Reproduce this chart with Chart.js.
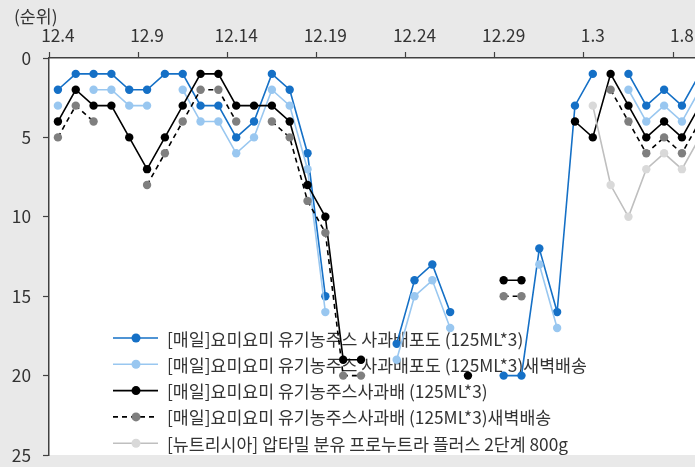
<!DOCTYPE html>
<html>
<head>
<meta charset="utf-8">
<script src="https://cdn.jsdelivr.net/npm/chart.js@4"></script>
<style>
  html, body { margin: 0; padding: 0; background: #e9e9e9; overflow: hidden; }
  #wrap { width: 790px; height: 467px; }
</style>
</head>
<body>
<div id="wrap"><canvas id="rankChart" width="790" height="467"></canvas></div>
<script>
// days shown (the original picture is cut at 1.8, a few more days run past the edge)
const days = [
  '12.4', '12.5', '12.6', '12.7', '12.8', '12.9', '12.10', '12.11', '12.12', '12.13',
  '12.14', '12.15', '12.16', '12.17', '12.18', '12.19', '12.20', '12.21', '12.22', '12.23',
  '12.24', '12.25', '12.26', '12.27', '12.28', '12.29', '12.30', '12.31', '1.1', '1.2',
  '1.3', '1.4', '1.5', '1.6', '1.7', '1.8', '1.9', '1.10', '1.11', '1.12', '1.13'
];

const seriesNames = [
  '[매일]요미요미 유기농주스 사과배포도 (125ML*3)',
  '[매일]요미요미 유기농주스 사과배포도 (125ML*3)새벽배송',
  '[매일]요미요미 유기농주스사과배 (125ML*3)',
  '[매일]요미요미 유기농주스사과배 (125ML*3)새벽배송',
  '[뉴트리시아] 압타밀 분유 프로누트라 플러스 2단계 800g'
];

const n = null;
const rankAppleGrape = [2, 1, 1, 1, 2, 2, 1, 1, 3, 3, 5, 4, 1, 2, 6, 15, n, n, n, 18, 14, 13, 16, n, n, 20, 20, 12, 16, 3, 1, n, 1, 3, 2, 3, 1, n, n, n, n];
const rankAppleGrapeDawn = [3, n, 2, 2, 3, 3, n, 2, 4, 4, 6, 5, 2, 3, 7, 16, n, n, n, 19, 15, 14, 17, n, n, n, n, 13, 17, n, n, n, 2, 4, 3, 4, 2, n, n, n, n];
const rankApplePear = [4, 2, 3, 3, 5, 7, 5, 3, 1, 1, 3, 3, 3, 4, 8, 10, 19, 19, n, n, n, n, n, 20, n, 14, 14, n, n, 4, 5, 1, 3, 5, 4, 5, 3, n, n, n, n];
const rankApplePearDawn = [5, 3, 4, n, n, 8, 6, 4, 2, 2, 4, n, 4, 5, 9, 11, 20, 20, n, n, n, n, n, n, n, 15, 15, n, n, n, n, 2, 4, 6, 5, 6, 4, n, n, n, n];
const rankAptamil = [n, n, n, n, n, n, n, n, n, n, n, n, n, n, n, n, n, n, n, n, n, n, n, n, n, n, n, n, n, n, 3, 8, 10, 7, 6, 7, 5, n, n, n, n];

const yTicks = [0, 5, 10, 15, 20, 25];

const FONT = '"Noto Sans CJK KR", "Noto Sans", sans-serif';
const FONT_SIZE = 17.3;
const TEXT = '#333333';
const AXIS = '#404040';

function lineSet(label, data, line, point, order, dash) {
  return {
    label,
    data,
    borderColor: line,
    backgroundColor: point,
    pointBackgroundColor: point,
    pointBorderColor: point,
    borderWidth: 1.6,
    borderDash: dash || [],
    pointRadius: 4.2,
    pointHoverRadius: 4.2,
    pointBorderWidth: 0,
    tension: 0,
    spanGaps: false,
    order
  };
}

const paperPlugin = {
  id: 'paper',
  beforeDraw(chart) {
    const { ctx, chartArea: a } = chart;
    ctx.save();
    ctx.fillStyle = '#e9e9e9';
    ctx.fillRect(0, 0, chart.width, chart.height);
    ctx.fillStyle = '#ffffff';
    ctx.fillRect(a.left, a.top, a.right - a.left, a.bottom - a.top);
    ctx.fillStyle = TEXT;
    ctx.font = FONT_SIZE + 'px ' + FONT;
    ctx.textBaseline = 'middle';
    ctx.fillText('(순위)', 14, 16);
    ctx.restore();
  }
};

// legend sits inside the plot, under the lines
const legendPlugin = {
  id: 'insideLegend',
  beforeDatasetsDraw(chart) {
    const ctx = chart.ctx;
    ctx.save();
    ctx.font = FONT_SIZE + 'px ' + FONT;
    ctx.textBaseline = 'middle';
    chart.data.datasets.forEach((ds, i) => {
      const y = 338 + i * 26.3;
      ctx.strokeStyle = ds.borderColor;
      ctx.lineWidth = 1.6;
      ctx.setLineDash(ds.borderDash);
      ctx.beginPath();
      ctx.moveTo(113, y);
      ctx.lineTo(158, y);
      ctx.stroke();
      ctx.setLineDash([]);
      ctx.fillStyle = ds.pointBackgroundColor;
      ctx.beginPath();
      ctx.arc(136, y, 4.5, 0, Math.PI * 2);
      ctx.fill();
      ctx.fillStyle = TEXT;
      ctx.fillText(ds.label, 167, y + 1);
    });
    ctx.restore();
  }
};

const ctx = document.getElementById('rankChart').getContext('2d');
new Chart(ctx, {
  type: 'line',
  data: {
    labels: days,
    datasets: [
      lineSet(seriesNames[0], rankAppleGrape, '#1570c6', '#1570c6', 5),
      lineSet(seriesNames[1], rankAppleGrapeDawn, '#99c7f0', '#99c7f0', 4),
      lineSet(seriesNames[2], rankApplePear, '#000000', '#000000', 3),
      lineSet(seriesNames[3], rankApplePearDawn, '#000000', '#7f7f7f', 2, [5, 4]),
      lineSet(seriesNames[4], rankAptamil, '#bfbfbf', '#d9d9d9', 1)
    ]
  },
  options: {
    responsive: false,
    animation: false,
    devicePixelRatio: 1,
    layout: { padding: { left: 0, top: 0, right: 10, bottom: 12 } },
    plugins: {
      legend: { display: false },
      tooltip: { enabled: false }
    },
    scales: {
      x: {
        type: 'category',
        position: 'top',
        offset: true,
        afterFit: (scale) => {
          scale.height = 58;
          scale.paddingLeft = 0;
          scale.paddingRight = 0;
        },
        grid: {
          offset: true,
          drawOnChartArea: false,
          drawTicks: true,
          tickLength: 6,
          tickWidth: 1.2,
          tickColor: (c) => (c.index !== undefined && c.index % 5 === 0 ? AXIS : 'rgba(0,0,0,0)')
        },
        border: { display: true, color: AXIS, width: 1.5 },
        ticks: {
          autoSkip: false,
          maxRotation: 0,
          padding: 6,
          color: TEXT,
          font: { family: FONT, size: FONT_SIZE },
          callback: (v, i) => (i % 5 === 0 ? days[i] : '')
        }
      },
      y: {
        reverse: true,
        min: yTicks[0],
        max: yTicks[yTicks.length - 1],
        afterFit: (scale) => {
          scale.width = 49;
          scale.paddingTop = 0;
          scale.paddingBottom = 0;
        },
        afterBuildTicks: (scale) => { scale.ticks = yTicks.map(v => ({ value: v })); },
        grid: {
          drawOnChartArea: false,
          drawTicks: true,
          tickLength: 6,
          tickWidth: 1.2,
          tickColor: AXIS
        },
        border: { display: true, color: AXIS, width: 1.5 },
        ticks: {
          padding: 12,
          color: TEXT,
          font: { family: FONT, size: FONT_SIZE }
        }
      }
    }
  },
  plugins: [paperPlugin, legendPlugin]
});
</script>
</body>
</html>
